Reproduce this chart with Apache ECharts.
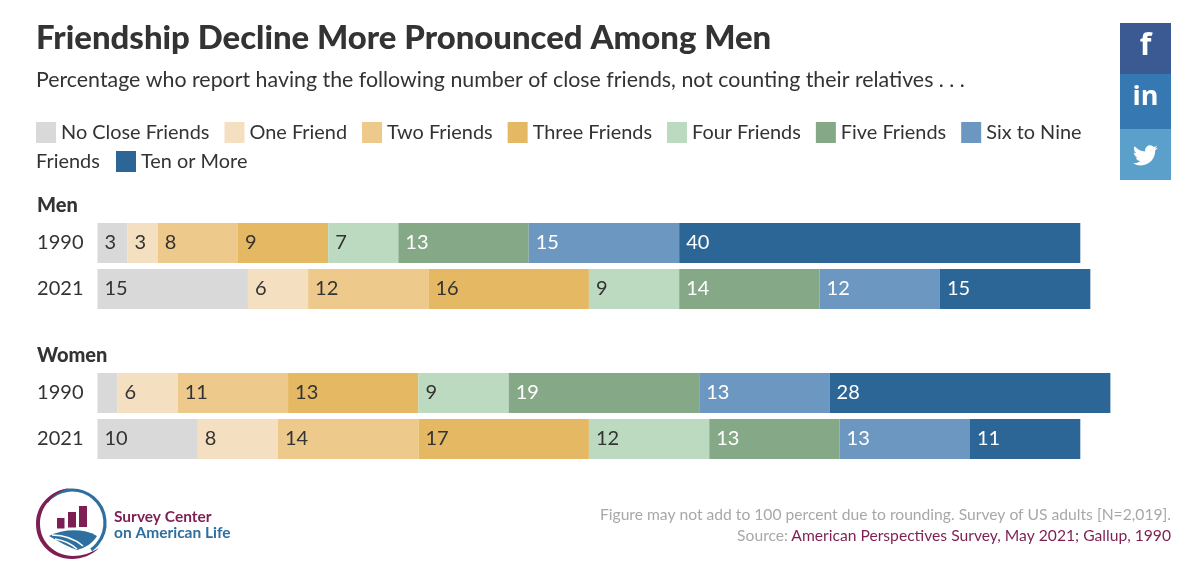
<!DOCTYPE html>
<html>
<head>
<meta charset="utf-8">
<style>html,body{margin:0;padding:0;background:#fff}#c{width:1200px;height:566px}</style>
<script src="https://cdn.jsdelivr.net/npm/echarts@6/dist/echarts.min.js"></script>
</head>
<body>
<div id="c"></div>
<script>
const years = ['1990', '2021'];
const seriesNames = ['No Close Friends', 'One Friend', 'Two Friends', 'Three Friends', 'Four Friends', 'Five Friends', 'Six to Nine Friends', 'Ten or More'];
const men1990 = [3, 3, 8, 9, 7, 13, 15, 40];
const men2021 = [15, 6, 12, 16, 9, 14, 12, 15];
const women1990 = [2, 6, 11, 13, 9, 19, 13, 28];
const women2021 = [10, 8, 14, 17, 12, 13, 13, 11];
const colors = ['#d9d9d9', '#f5dfc1', '#eec98c', '#e5b963', '#bbdabf', '#85a987', '#6b97c0', '#2c6696'];
const labelColors = ['#333', '#333', '#333', '#333', '#333', '#fff', '#fff', '#fff'];
const hiddenLabels = [2];

const FONT = 'Lato';
const chart = echarts.init(document.getElementById('c'), null, {renderer: 'canvas'});

function groupSeries(prefix, gridIndex, a, b) {
  return seriesNames.map((name, i) => ({
    name, type: 'bar', stack: prefix, xAxisIndex: gridIndex, yAxisIndex: gridIndex,
    barWidth: 40, itemStyle: {color: colors[i]},
    emphasis: {disabled: true},
    label: {
      show: true, position: 'insideLeft', distance: 7, color: labelColors[i],
      fontFamily: FONT, fontSize: 20,
      formatter: p => hiddenLabels.includes(p.value) ? '' : p.value
    },
    data: [a[i], b[i]]
  }));
}

function xAxis(g) { return {gridIndex: g, type: 'value', min: 0, max: 105, show: false}; }
function yAxis(g) {
  return {gridIndex: g, type: 'category', inverse: true, data: years,
    axisLine: {show: false}, axisTick: {show: false}, splitLine: {show: false},
    axisLabel: {color: '#333', fontFamily: FONT, fontSize: 20, margin: 14}};
}
function panel(y, h, color) {
  return {type: 'rect', shape: {x: 1120, y, width: 51, height: h}, style: {fill: color}, silent: true};
}
function txt(x, y, text, fill, size, weight, align) {
  return {type: 'text', x, y, silent: true, style: {text, fill, fontFamily: FONT, fontSize: size, fontWeight: weight || 'normal', align: align || 'left', verticalAlign: 'middle'}};
}
function shape(name, x, y, sx, sy, fill) {
  return {type: name, silent: true, x, y, scaleX: sx, scaleY: sy, shape: {}, style: {fill}};
}
function curve(x1, y1, cpx1, cpy1, x2, y2) {
  return {type: 'bezierCurve', silent: true, shape: {x1, y1, cpx1, cpy1, x2, y2}, style: {stroke: '#fff', lineWidth: 1.6, fill: 'none'}};
}
const G = echarts.graphic;
G.registerShape('bird', G.extendPath('M23.953 4.57a10 10 0 0 1-2.825.775 4.958 4.958 0 0 0 2.163-2.723c-.951.555-2.005.959-3.127 1.184a4.92 4.92 0 0 0-8.384 4.482C7.69 8.095 4.067 6.13 1.64 3.162a4.822 4.822 0 0 0-.666 2.475c0 1.71.87 3.213 2.188 4.096a4.904 4.904 0 0 1-2.228-.616v.06a4.923 4.923 0 0 0 3.946 4.827 4.996 4.996 0 0 1-2.212.085 4.936 4.936 0 0 0 4.604 3.417 9.867 9.867 0 0 1-6.102 2.105c-.39 0-.779-.023-1.17-.067a13.995 13.995 0 0 0 7.557 2.209c9.053 0 13.998-7.496 13.998-13.985 0-.21 0-.42-.015-.63A9.935 9.935 0 0 0 24 4.59z', {}));
G.registerShape('crescent', G.extendPath('M33 0C14 3 0 17 0 36C0 56 16 71 36 71C46 71 56 67 63 60C55 65 46 68 37 68C19 68 4 54 4 36C4 19 16 6 33 0Z', {}));
G.registerShape('hill', G.extendPath('M0 6C14 -1 34 -2 48 6C44 13 36 18 28 20C20 17 10 12 0 6Z', {}));

const graphics = [
  txt(36, 162, 'Friends', '#333', 19.9),
  txt(37, 206, 'Men', '#333', 20, 900),
  txt(37, 356, 'Women', '#333', 20, 900),
  panel(23, 51, '#3b5a94'), panel(74, 55, '#3578b2'), panel(129, 51, '#5ba0cb'),
  {type: 'text', x: 1145.5, y: 46, silent: true, style: {text: 'f', fill: '#fff', fontFamily: 'Open Sans', fontWeight: 'bold', fontSize: 30, align: 'center', verticalAlign: 'middle'}},
  {type: 'text', x: 1145.5, y: 97, silent: true, style: {text: 'in', fill: '#fff', fontFamily: 'Open Sans', fontWeight: 'bold', fontSize: 27, align: 'center', verticalAlign: 'middle'}},
  shape('bird', 1133, 143, 1.03, 1.03, '#fff'),
  // logo
  {type: 'arc', silent: true, shape: {cx: 72, cy: 523, r: 33, startAngle: -2.45, endAngle: 0.95, clockwise: true}, style: {stroke: '#2f6f9f', lineWidth: 3.2, fill: 'none'}},
  shape('crescent', 36, 488, 1, 1, '#7d1f52'),
  {type: 'rect', silent: true, shape: {x: 57, y: 518, width: 7.5, height: 10.5}, style: {fill: '#7d1f52'}},
  {type: 'rect', silent: true, shape: {x: 68, y: 512, width: 8, height: 15.5}, style: {fill: '#7d1f52'}},
  {type: 'rect', silent: true, shape: {x: 79, y: 506, width: 8, height: 21}, style: {fill: '#7d1f52'}},
  shape('hill', 49, 530, 1, 1, '#2f6f9f'),
  curve(52, 535, 70, 535, 83, 546),
  curve(55, 539, 68, 541, 77, 549),
  txt(114, 517, 'Survey Center', '#7d1f52', 15.5, 'bold'),
  txt(114, 533, 'on American Life', '#2f6f9f', 15.5, 'bold'),
  txt(1171, 515, 'Figure may not add to 100 percent due to rounding. Survey of US adults [N=2,019].', '#a8a8a8', 15.65, 'normal', 'right'),
  txt(1171, 536, 'American Perspectives Survey, May 2021; Gallup, 1990', '#7d1f52', 15.65, 'normal', 'right'),
  txt(788, 536, 'Source:', '#a8a8a8', 15.65, 'normal', 'right')
];

chart.setOption({
  animation: false,
  backgroundColor: '#fff',
  title: {
    text: 'Friendship Decline More Pronounced Among Men',
    subtext: 'Percentage who report having the following number of close friends, not counting their relatives . . .',
    left: 36, top: 22, padding: 0, itemGap: 15,
    textStyle: {fontFamily: FONT, fontWeight: 900, fontSize: 32.9, color: '#333'},
    subtextStyle: {fontFamily: FONT, fontSize: 21.35, color: '#333'}
  },
  legend: [
    {data: seriesNames.slice(0, 7), left: 36, top: 122, itemWidth: 20, itemHeight: 21, itemGap: 15, selectedMode: false,
     icon: 'rect', width: 1150, padding: 0,
     formatter: n => n === 'Six to Nine Friends' ? 'Six to Nine' : n,
     textStyle: {fontFamily: FONT, fontSize: 19.9, color: '#333'}},
    {data: seriesNames.slice(7), left: 116, top: 151, itemWidth: 20, itemHeight: 21, selectedMode: false,
     icon: 'rect', padding: 0,
     textStyle: {fontFamily: FONT, fontSize: 19.9, color: '#333'}}
  ],
  grid: [
    {left: 97.5, top: 220, width: 1053, height: 92},
    {left: 97.5, top: 370, width: 1053, height: 92}
  ],
  xAxis: [xAxis(0), xAxis(1)],
  yAxis: [yAxis(0), yAxis(1)],
  series: [...groupSeries('men', 0, men1990, men2021), ...groupSeries('women', 1, women1990, women2021)],
  graphic: graphics
});
</script>
</body>
</html>
